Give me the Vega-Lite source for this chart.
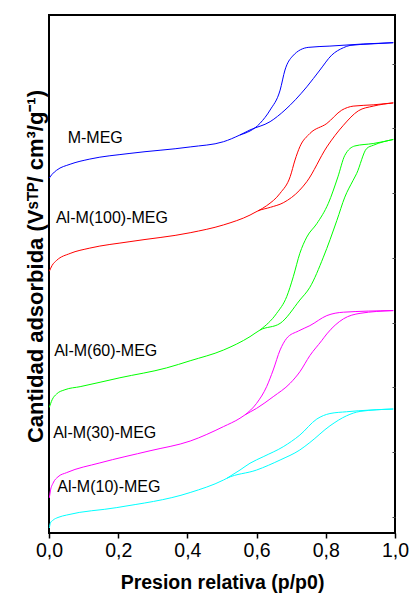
{
  "$schema": "https://vega.github.io/schema/vega-lite/v6.json",
  "width": 346,
  "height": 518,
  "autosize": "none",
  "padding": {"left": 49, "top": 15, "right": 14, "bottom": 61},
  "background": "white",
  "config": {
    "view": {"stroke": "black", "strokeWidth": 2},
    "font": "Liberation Sans",
    "axis": {"grid": false}
  },
  "datasets": {
    "curves": [
      {"s":"M-MEG","b":"ads","x":0.001,"y":21.93},{"s":"M-MEG","b":"ads","x":0.009,"y":22.16},{"s":"M-MEG","b":"ads","x":0.022,"y":22.41},{"s":"M-MEG","b":"ads","x":0.061,"y":22.78},{"s":"M-MEG","b":"ads","x":0.118,"y":23.10},{"s":"M-MEG","b":"ads","x":0.234,"y":23.45},{"s":"M-MEG","b":"ads","x":0.408,"y":23.85},{"s":"M-MEG","b":"ads","x":0.504,"y":24.17},{"s":"M-MEG","b":"ads","x":0.552,"y":24.59},{"s":"M-MEG","b":"ads","x":0.581,"y":24.90},{"s":"M-MEG","b":"ads","x":0.639,"y":25.41},{"s":"M-MEG","b":"ads","x":0.682,"y":26.13},{"s":"M-MEG","b":"ads","x":0.745,"y":27.56},{"s":"M-MEG","b":"ads","x":0.783,"y":28.60},{"s":"M-MEG","b":"ads","x":0.817,"y":29.52},{"s":"M-MEG","b":"ads","x":0.851,"y":29.98},{"s":"M-MEG","b":"ads","x":0.870,"y":30.12},{"s":"M-MEG","b":"ads","x":0.928,"y":30.21},{"s":"M-MEG","b":"ads","x":0.995,"y":30.29},
      {"s":"M-MEG","b":"des","x":0.552,"y":24.59},{"s":"M-MEG","b":"des","x":0.610,"y":25.31},{"s":"M-MEG","b":"des","x":0.639,"y":26.13},{"s":"M-MEG","b":"des","x":0.668,"y":27.36},{"s":"M-MEG","b":"des","x":0.682,"y":28.60},{"s":"M-MEG","b":"des","x":0.704,"y":29.46},{"s":"M-MEG","b":"des","x":0.749,"y":30.00},{"s":"M-MEG","b":"des","x":0.812,"y":30.08},{"s":"M-MEG","b":"des","x":0.908,"y":30.21},{"s":"M-MEG","b":"des","x":0.995,"y":30.29},
      {"s":"Al-M(100)-MEG","b":"ads","x":0.001,"y":16.17},{"s":"Al-M(100)-MEG","b":"ads","x":0.009,"y":16.53},{"s":"Al-M(100)-MEG","b":"ads","x":0.022,"y":16.84},{"s":"Al-M(100)-MEG","b":"ads","x":0.061,"y":17.27},{"s":"Al-M(100)-MEG","b":"ads","x":0.118,"y":17.60},{"s":"Al-M(100)-MEG","b":"ads","x":0.234,"y":18.00},{"s":"Al-M(100)-MEG","b":"ads","x":0.408,"y":18.55},{"s":"Al-M(100)-MEG","b":"ads","x":0.504,"y":19.03},{"s":"Al-M(100)-MEG","b":"ads","x":0.581,"y":19.64},{"s":"Al-M(100)-MEG","b":"ads","x":0.604,"y":19.90},{"s":"Al-M(100)-MEG","b":"ads","x":0.640,"y":20.12},{"s":"Al-M(100)-MEG","b":"ads","x":0.677,"y":20.40},{"s":"Al-M(100)-MEG","b":"ads","x":0.725,"y":21.19},{"s":"Al-M(100)-MEG","b":"ads","x":0.745,"y":21.70},{"s":"Al-M(100)-MEG","b":"ads","x":0.803,"y":23.85},{"s":"Al-M(100)-MEG","b":"ads","x":0.851,"y":25.19},{"s":"Al-M(100)-MEG","b":"ads","x":0.894,"y":26.08},{"s":"Al-M(100)-MEG","b":"ads","x":0.937,"y":26.37},{"s":"Al-M(100)-MEG","b":"ads","x":0.995,"y":26.57},
      {"s":"Al-M(100)-MEG","b":"des","x":0.604,"y":19.90},{"s":"Al-M(100)-MEG","b":"des","x":0.629,"y":20.22},{"s":"Al-M(100)-MEG","b":"des","x":0.668,"y":20.99},{"s":"Al-M(100)-MEG","b":"des","x":0.697,"y":22.01},{"s":"Al-M(100)-MEG","b":"des","x":0.711,"y":23.04},{"s":"Al-M(100)-MEG","b":"des","x":0.725,"y":23.86},{"s":"Al-M(100)-MEG","b":"des","x":0.754,"y":24.68},{"s":"Al-M(100)-MEG","b":"des","x":0.803,"y":25.30},{"s":"Al-M(100)-MEG","b":"des","x":0.846,"y":26.12},{"s":"Al-M(100)-MEG","b":"des","x":0.879,"y":26.37},{"s":"Al-M(100)-MEG","b":"des","x":0.937,"y":26.45},{"s":"Al-M(100)-MEG","b":"des","x":0.995,"y":26.57},
      {"s":"Al-M(60)-MEG","b":"ads","x":0.001,"y":7.76},{"s":"Al-M(60)-MEG","b":"ads","x":0.009,"y":8.23},{"s":"Al-M(60)-MEG","b":"ads","x":0.022,"y":8.59},{"s":"Al-M(60)-MEG","b":"ads","x":0.046,"y":8.85},{"s":"Al-M(60)-MEG","b":"ads","x":0.090,"y":9.04},{"s":"Al-M(60)-MEG","b":"ads","x":0.205,"y":9.59},{"s":"Al-M(60)-MEG","b":"ads","x":0.340,"y":10.20},{"s":"Al-M(60)-MEG","b":"ads","x":0.408,"y":10.64},{"s":"Al-M(60)-MEG","b":"ads","x":0.504,"y":11.30},{"s":"Al-M(60)-MEG","b":"ads","x":0.581,"y":12.13},{"s":"Al-M(60)-MEG","b":"ads","x":0.610,"y":12.54},{"s":"Al-M(60)-MEG","b":"ads","x":0.668,"y":12.95},{"s":"Al-M(60)-MEG","b":"ads","x":0.725,"y":14.39},{"s":"Al-M(60)-MEG","b":"ads","x":0.754,"y":15.18},{"s":"Al-M(60)-MEG","b":"ads","x":0.793,"y":17.04},{"s":"Al-M(60)-MEG","b":"ads","x":0.832,"y":19.31},{"s":"Al-M(60)-MEG","b":"ads","x":0.855,"y":20.75},{"s":"Al-M(60)-MEG","b":"ads","x":0.879,"y":21.79},{"s":"Al-M(60)-MEG","b":"ads","x":0.889,"y":22.20},{"s":"Al-M(60)-MEG","b":"ads","x":0.918,"y":23.75},{"s":"Al-M(60)-MEG","b":"ads","x":0.937,"y":23.95},{"s":"Al-M(60)-MEG","b":"ads","x":0.995,"y":24.31},
      {"s":"Al-M(60)-MEG","b":"des","x":0.610,"y":12.54},{"s":"Al-M(60)-MEG","b":"des","x":0.658,"y":13.57},{"s":"Al-M(60)-MEG","b":"des","x":0.687,"y":14.60},{"s":"Al-M(60)-MEG","b":"des","x":0.706,"y":15.83},{"s":"Al-M(60)-MEG","b":"des","x":0.725,"y":17.28},{"s":"Al-M(60)-MEG","b":"des","x":0.745,"y":18.28},{"s":"Al-M(60)-MEG","b":"des","x":0.774,"y":19.11},{"s":"Al-M(60)-MEG","b":"des","x":0.807,"y":20.35},{"s":"Al-M(60)-MEG","b":"des","x":0.835,"y":22.00},{"s":"Al-M(60)-MEG","b":"des","x":0.855,"y":23.33},{"s":"Al-M(60)-MEG","b":"des","x":0.884,"y":23.91},{"s":"Al-M(60)-MEG","b":"des","x":0.937,"y":24.06},{"s":"Al-M(60)-MEG","b":"des","x":0.995,"y":24.31},
      {"s":"Al-M(30)-MEG","b":"ads","x":0.001,"y":2.17},{"s":"Al-M(30)-MEG","b":"ads","x":0.004,"y":2.60},{"s":"Al-M(30)-MEG","b":"ads","x":0.012,"y":3.09},{"s":"Al-M(30)-MEG","b":"ads","x":0.026,"y":3.47},{"s":"Al-M(30)-MEG","b":"ads","x":0.051,"y":3.73},{"s":"Al-M(30)-MEG","b":"ads","x":0.147,"y":4.33},{"s":"Al-M(30)-MEG","b":"ads","x":0.292,"y":5.08},{"s":"Al-M(30)-MEG","b":"ads","x":0.408,"y":5.68},{"s":"Al-M(30)-MEG","b":"ads","x":0.504,"y":6.57},{"s":"Al-M(30)-MEG","b":"ads","x":0.552,"y":7.09},{"s":"Al-M(30)-MEG","b":"ads","x":0.566,"y":7.29},{"s":"Al-M(30)-MEG","b":"ads","x":0.600,"y":7.70},{"s":"Al-M(30)-MEG","b":"ads","x":0.648,"y":8.42},{"s":"Al-M(30)-MEG","b":"ads","x":0.697,"y":9.25},{"s":"Al-M(30)-MEG","b":"ads","x":0.725,"y":9.96},{"s":"Al-M(30)-MEG","b":"ads","x":0.754,"y":10.96},{"s":"Al-M(30)-MEG","b":"ads","x":0.788,"y":11.88},{"s":"Al-M(30)-MEG","b":"ads","x":0.803,"y":12.30},{"s":"Al-M(30)-MEG","b":"ads","x":0.851,"y":13.23},{"s":"Al-M(30)-MEG","b":"ads","x":0.899,"y":13.57},{"s":"Al-M(30)-MEG","b":"ads","x":0.995,"y":13.74},
      {"s":"Al-M(30)-MEG","b":"des","x":0.566,"y":7.29},{"s":"Al-M(30)-MEG","b":"des","x":0.600,"y":8.01},{"s":"Al-M(30)-MEG","b":"des","x":0.629,"y":9.04},{"s":"Al-M(30)-MEG","b":"des","x":0.648,"y":10.07},{"s":"Al-M(30)-MEG","b":"des","x":0.668,"y":11.31},{"s":"Al-M(30)-MEG","b":"des","x":0.687,"y":12.03},{"s":"Al-M(30)-MEG","b":"des","x":0.721,"y":12.48},{"s":"Al-M(30)-MEG","b":"des","x":0.754,"y":12.81},{"s":"Al-M(30)-MEG","b":"des","x":0.803,"y":13.43},{"s":"Al-M(30)-MEG","b":"des","x":0.851,"y":13.64},{"s":"Al-M(30)-MEG","b":"des","x":0.995,"y":13.74},
      {"s":"Al-M(10)-MEG","b":"ads","x":0.001,"y":0.31},{"s":"Al-M(10)-MEG","b":"ads","x":0.004,"y":0.62},{"s":"Al-M(10)-MEG","b":"ads","x":0.012,"y":0.80},{"s":"Al-M(10)-MEG","b":"ads","x":0.026,"y":0.96},{"s":"Al-M(10)-MEG","b":"ads","x":0.051,"y":1.11},{"s":"Al-M(10)-MEG","b":"ads","x":0.196,"y":1.57},{"s":"Al-M(10)-MEG","b":"ads","x":0.408,"y":2.50},{"s":"Al-M(10)-MEG","b":"ads","x":0.504,"y":3.27},{"s":"Al-M(10)-MEG","b":"ads","x":0.514,"y":3.38},{"s":"Al-M(10)-MEG","b":"ads","x":0.600,"y":3.89},{"s":"Al-M(10)-MEG","b":"ads","x":0.668,"y":4.51},{"s":"Al-M(10)-MEG","b":"ads","x":0.725,"y":5.13},{"s":"Al-M(10)-MEG","b":"ads","x":0.754,"y":5.59},{"s":"Al-M(10)-MEG","b":"ads","x":0.812,"y":6.62},{"s":"Al-M(10)-MEG","b":"ads","x":0.860,"y":7.24},{"s":"Al-M(10)-MEG","b":"ads","x":0.899,"y":7.51},{"s":"Al-M(10)-MEG","b":"ads","x":0.995,"y":7.66},
      {"s":"Al-M(10)-MEG","b":"des","x":0.514,"y":3.38},{"s":"Al-M(10)-MEG","b":"des","x":0.552,"y":3.89},{"s":"Al-M(10)-MEG","b":"des","x":0.581,"y":4.31},{"s":"Al-M(10)-MEG","b":"des","x":0.619,"y":4.71},{"s":"Al-M(10)-MEG","b":"des","x":0.677,"y":5.33},{"s":"Al-M(10)-MEG","b":"des","x":0.725,"y":6.05},{"s":"Al-M(10)-MEG","b":"des","x":0.774,"y":7.04},{"s":"Al-M(10)-MEG","b":"des","x":0.812,"y":7.38},{"s":"Al-M(10)-MEG","b":"des","x":0.860,"y":7.49},{"s":"Al-M(10)-MEG","b":"des","x":0.995,"y":7.66}
    ],
    "labels": [
      {"s":"M-MEG","x":0.054,"y":24.40},
      {"s":"Al-M(100)-MEG","x":0.020,"y":19.46},
      {"s":"Al-M(60)-MEG","x":0.015,"y":11.24},
      {"s":"Al-M(30)-MEG","x":0.012,"y":6.18},
      {"s":"Al-M(10)-MEG","x":0.024,"y":2.84}
    ]
  },
  "layer": [
    {
      "data": {"name": "curves"},
      "mark": {"type": "line", "strokeWidth": 1, "interpolate": "monotone"},
      "encoding": {
        "x": {
          "field": "x", "type": "quantitative",
          "scale": {"domain": [0, 1], "nice": false, "zero": false},
          "axis": {
            "orient": "bottom",
            "values": [0, 0.1, 0.2, 0.3, 0.4, 0.5, 0.6, 0.7, 0.8, 0.9, 1.0],
            "labelExpr": "round(datum.value*10)%2==0 ? replace(format(datum.value,'.1f'),'.',',') : ''",
            "domain": false,
            "ticks": true,
            "tickColor": "black",
            "tickWidth": 1.5,
            "tickSize": {"condition": {"test": "round(datum.value*10)%2==0", "value": 5}, "value": 3},
            "labelFont": "Liberation Sans",
            "labelFontSize": 19.5,
            "labelColor": "black",
            "labelPadding": 3,
            "labelFlush": false,
            "labelOverlap": false,
            "title": "Presion relativa (p/p0)",
            "titleFont": "Liberation Sans",
            "titleFontSize": 19.5,
            "titleFontWeight": "bold",
            "titleColor": "black",
            "titlePadding": 14
          }
        },
        "y": {
          "field": "y", "type": "quantitative",
          "scale": {"domain": [0, 32], "nice": false, "zero": false},
          "axis": {
            "orient": "right",
            "values": [1,2,3,4,5,6,7,8,9,10,11,12,13,14,15,16,17,18,19,20,21,22,23,24,25,26,27,28,29,30,31],
            "labels": false,
            "domain": false,
            "ticks": true,
            "tickSize": -3,
            "tickColor": "#444444",
            "tickWidth": 1,
            "title": "Cantidad adsorbida (Vˢᵀᴾ/ cm³/g⁻¹)",
            "titleFont": "Liberation Sans",
            "titleFontSize": 22,
            "titleFontWeight": "bold",
            "titleColor": "black",
            "titleAngle": -90,
            "titleAlign": "center",
            "titleBaseline": "alphabetic",
            "titleX": -353,
            "titleY": 251
          }
        },
        "color": {
          "field": "s", "type": "nominal",
          "scale": {
            "domain": ["M-MEG", "Al-M(100)-MEG", "Al-M(60)-MEG", "Al-M(30)-MEG", "Al-M(10)-MEG"],
            "range": ["#0000ff", "#ff0000", "#00ff00", "#ff00ff", "#00ffff"]
          },
          "legend": null
        },
        "detail": {"field": "b", "type": "nominal"}
      }
    },
    {
      "data": {"name": "labels"},
      "mark": {"type": "text", "align": "left", "baseline": "middle", "font": "Liberation Sans", "fontSize": 16, "color": "black"},
      "encoding": {
        "x": {"field": "x", "type": "quantitative"},
        "y": {"field": "y", "type": "quantitative"},
        "text": {"field": "s", "type": "nominal"}
      }
    }
  ]
}
